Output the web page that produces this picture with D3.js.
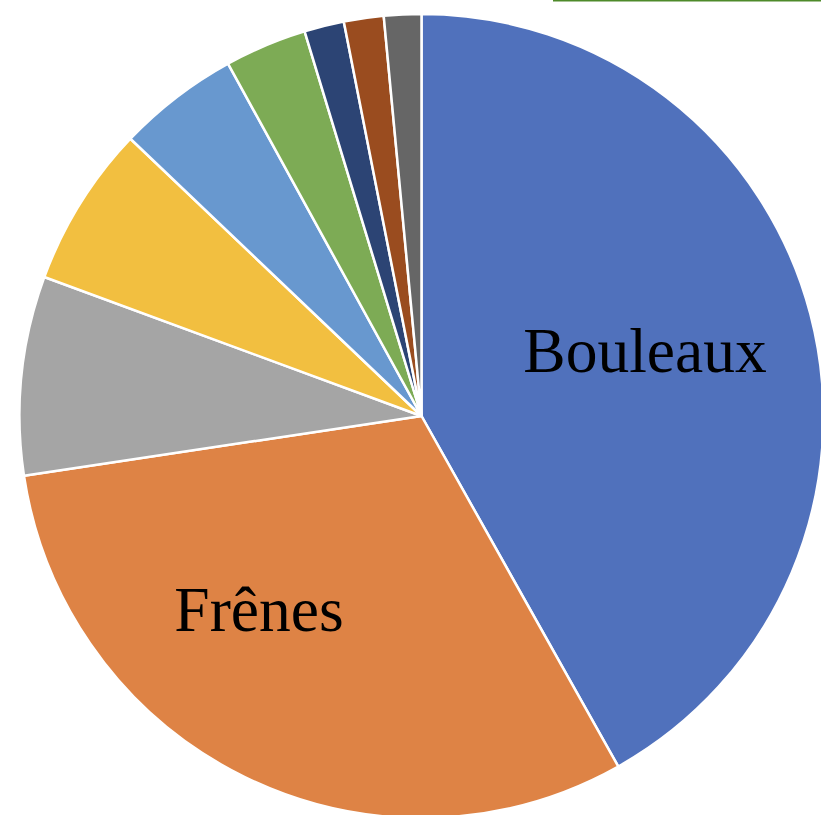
<!DOCTYPE html>
<html><head><meta charset="utf-8">
<script src="https://cdn.jsdelivr.net/npm/d3@7"></script>
<style>html,body{margin:0;padding:0;background:#fff;overflow:hidden}</style>
</head><body>
<svg id="chart" width="821" height="815"></svg>
<script>
const categories = ["Bouleaux","Frênes","Érables","Chênes","Hêtres","Charmes","Tilleuls","Aulnes","Autres"];
const values = [41.9, 30.8, 8.0, 6.5, 4.9, 3.3, 1.6, 1.6, 1.5];
const colors = ["#5071BC","#DE8345","#A5A5A5","#F2BF40","#6898CF","#7DAB55","#2C4474","#9A4C1F","#666666"];
const shownLabels = ["Bouleaux","Frênes"];

const svg = d3.select("#chart");
const cx = 421.5, cy = 416, r = 402;
// label placement (best-fit style): radius fraction and angle within the chart
const labelLayout = {"Bouleaux": {x: 223.5, y: -44}, "Frênes": {x: -162.5, y: 215}};

svg.append("line").attr("x1",553).attr("x2",821).attr("y1",0.5).attr("y2",0.5)
  .attr("stroke","#4E8A2A").attr("stroke-width",2);

const pie = d3.pie().sort(null).value(d=>d.v);
const arcs = pie(categories.map((c,i)=>({c, v: values[i], col: colors[i]})));
const arc = d3.arc().innerRadius(0).outerRadius(r);
const g = svg.append("g").attr("transform",`translate(${cx},${cy})`);
g.selectAll("path").data(arcs).join("path")
  .attr("d",arc).attr("fill",d=>d.data.col)
  .attr("stroke","#fff").attr("stroke-width",2.5).attr("stroke-linejoin","round");

g.selectAll("text").data(arcs.filter(d=>shownLabels.includes(d.data.c))).join("text")
  .attr("x",d=>labelLayout[d.data.c].x).attr("y",d=>labelLayout[d.data.c].y)
  .attr("text-anchor","middle")
  .attr("font-family","'Liberation Serif','Times New Roman',serif")
  .attr("font-size",63.5).attr("fill","#000")
  .text(d=>d.data.c);
</script>
</body></html>
